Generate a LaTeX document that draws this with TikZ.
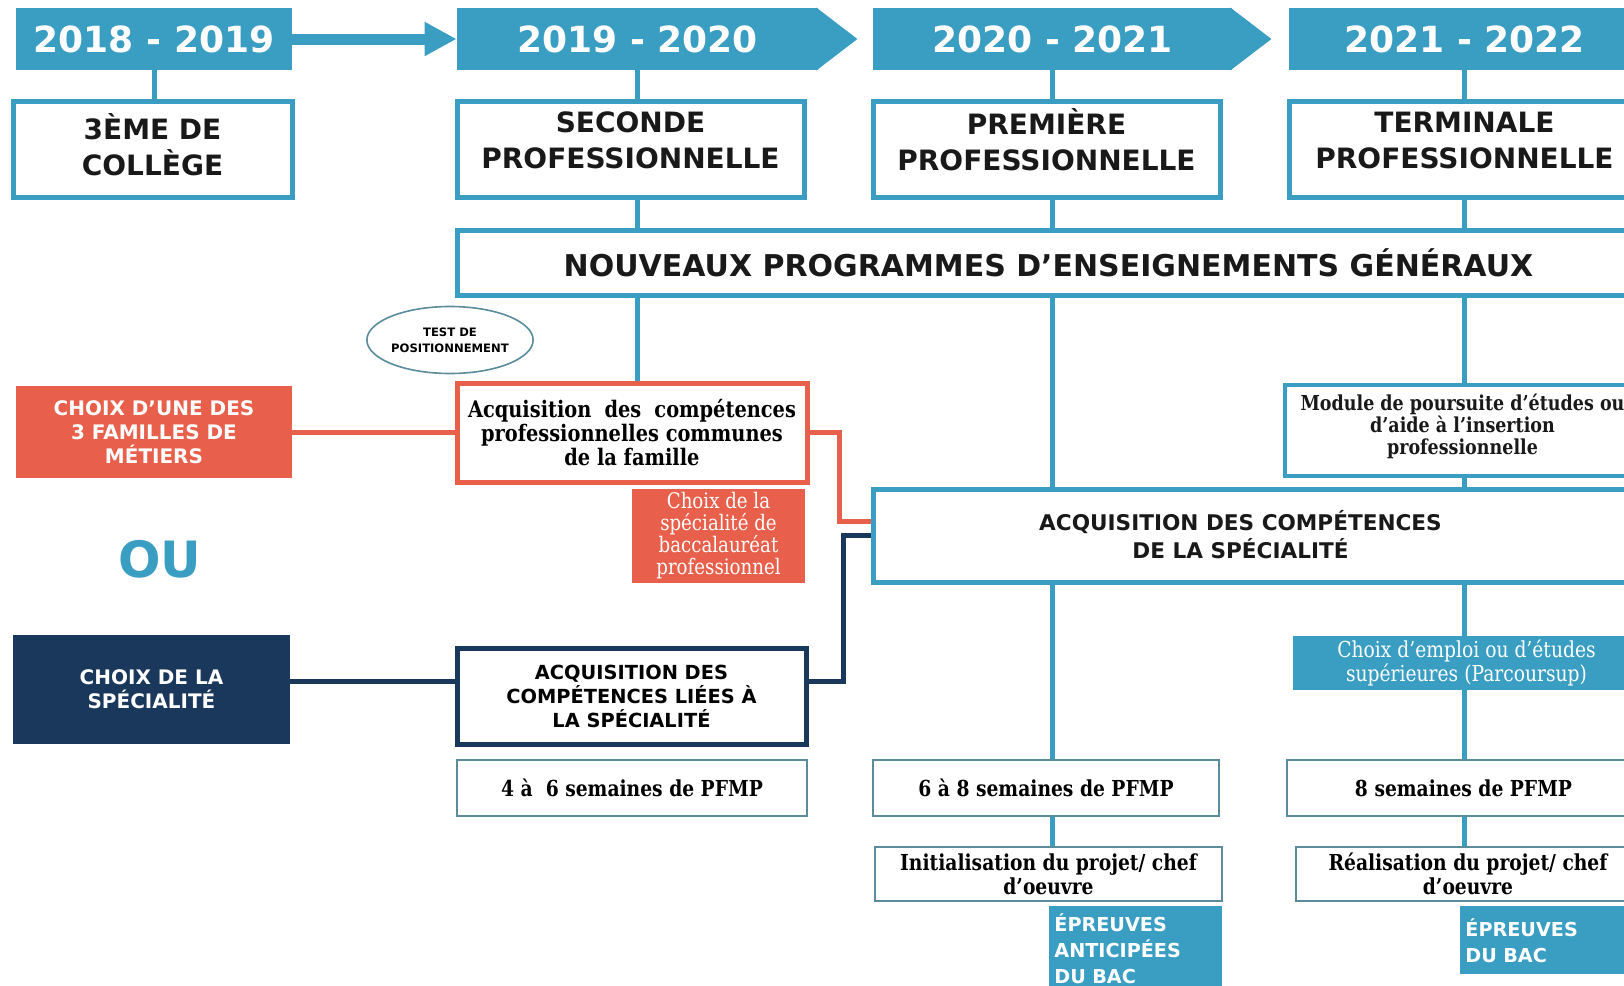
\documentclass[tikz,border=0pt]{standalone}
\usepackage{fontspec}
\setmainfont{DejaVu Serif}
\newfontfamily\hdfont{DejaVu Sans}
\newfontfamily\srfont{DejaVu Serif}[FakeStretch=0.85]
\usetikzlibrary{arrows.meta,backgrounds,shapes.geometric}
\definecolor{tealc}{RGB}{58,158,195}
\definecolor{redc}{RGB}{232,96,76}
\definecolor{navyc}{RGB}{26,56,92}
\definecolor{greyteal}{RGB}{90,140,155}
\begin{document}
\begin{tikzpicture}[x=0.5pt,y=-0.5pt,
  banner/.style={fill=tealc, text=white, font=\hdfont\bfseries\fontsize{18}{20}\selectfont, minimum height=31pt, inner sep=0pt},
  hbox/.style={draw=tealc, line width=2.5pt, fill=white, text=black!90, font=\hdfont\bfseries\fontsize{14}{18}\selectfont, align=center, minimum height=48pt, inner sep=0pt},
  hlab/.style={text=black!90, font=\hdfont\bfseries\fontsize{14}{18}\selectfont, align=center, inner sep=0pt},
  tline/.style={draw=tealc, line width=2.5pt},
  redline/.style={draw=redc, line width=2.5pt},
  navyline/.style={draw=navyc, line width=2.5pt},
  test/.style={ellipse, draw=greyteal, line width=0.8pt, fill=white, align=center, font=\hdfont\bfseries\fontsize{5.8}{8}\selectfont, minimum width=75pt, minimum height=33.5pt, inner sep=0pt},
  fbox/.style={draw=greyteal, line width=1pt, fill=white, font=\srfont\bfseries\fontsize{11}{13}\selectfont, minimum height=28pt, inner sep=0pt},
  ibox/.style={draw=greyteal, line width=1pt, fill=white, font=\srfont\bfseries\fontsize{11}{12}\selectfont, align=center, minimum height=27pt, inner sep=0pt},
  ebox/.style={fill=tealc, text=white, font=\hdfont\bfseries\fontsize{9.6}{13}\selectfont, align=left, anchor=north west, inner xsep=2.5pt, inner ysep=3pt}
]
\useasboundingbox (0,0) rectangle (1624,986);
\clip (0,0) rectangle (1624,986);

% year banners
\node[banner, minimum width=138pt] (b1) at (154,39) {2018 - 2019};
\node[banner, minimum width=180.5pt] (b2) at (637.5,39) {2019 - 2020};
\node[banner, minimum width=179.5pt] (b3) at (1052.5,39) {2020 - 2021};
\node[banner, minimum width=175.5pt] (b4) at (1464.5,39) {2021 - 2022};
\fill[tealc] ([xshift=-1pt]b2.north east) -- ([xshift=19.5pt]b2.east) -- ([xshift=-1pt]b2.south east) -- cycle;
\fill[tealc] ([xshift=-1pt]b3.north east) -- ([xshift=19.5pt]b3.east) -- ([xshift=-1pt]b3.south east) -- cycle;
\draw[tealc, line width=5.5pt, -{Triangle[length=16pt,width=16pt]}] (b1.east) -- (b2.west);

% class boxes
\node[hbox, minimum width=139.5pt, label={[hlab, yshift=2pt]center:{3ÈME DE\\COLLÈGE}}] (p0) at (152.5,149) {};
\node[hbox, minimum width=173.5pt, label={[hlab, yshift=4.5pt]center:{SECONDE\\PROFESSIONNELLE}}] (p1) at (630.5,149) {};
\node[hbox, minimum width=173.5pt, label={[hlab, yshift=4.5pt]center:{PREMIÈRE\\PROFESSIONNELLE}}] (p2) at (1046.5,149) {};
\node[hbox, minimum width=175.5pt, label={[hlab, yshift=4.5pt]center:{TERMINALE\\PROFESSIONNELLE}}] (p3) at (1464.5,149) {};

\node[hbox, font=\hdfont\bfseries\fontsize{15}{18}\selectfont, minimum width=591.5pt, minimum height=32.5pt] (np) at (1048.5,262.5) {NOUVEAUX PROGRAMMES D’ENSEIGNEMENTS GÉNÉRAUX};

\node[test] (tp) at (450,340) {TEST DE\\POSITIONNEMENT};

\node[fill=redc, text=white, font=\hdfont\bfseries\fontsize{10}{12}\selectfont, align=center, minimum width=138pt, minimum height=46pt, inner sep=0pt] (r1) at (154,432) {CHOIX D’UNE DES\\3 FAMILLES DE\\MÉTIERS};

\node[draw=redc, line width=2.5pt, fill=white, font=\srfont\bfseries\fontsize{11.4}{12}\selectfont, align=center, minimum width=175pt, minimum height=49.5pt, inner sep=0pt] (ac) at (632,432.5) {\makebox[164pt][s]{Acquisition des compétences}\\professionnelles communes\\de la famille};

\node[fill=redc, text=white, font=\srfont\fontsize{10.7}{11}\selectfont, align=center, minimum width=86.5pt, minimum height=47pt, inner sep=0pt] (cs) at (718.5,536) {Choix de la\\spécialité de\\baccalauréat\\professionnel};

\node[hbox, minimum width=383.5pt, minimum height=46.5pt, label={[hlab, font=\hdfont\bfseries\fontsize{10.8}{14}\selectfont, xshift=-8pt, yshift=0.5pt]center:{ACQUISITION DES COMPÉTENCES\\DE LA SPÉCIALITÉ}}] (bb) at (1256.5,535.5) {};

\node[draw=tealc, line width=2pt, fill=white, minimum width=177.5pt, minimum height=45.5pt, inner sep=0pt, label={[hlab, font=\srfont\bfseries\fontsize{10.3}{11}\selectfont, yshift=2pt]center:{Module de poursuite d’études ou\\d’aide à l’insertion\\professionnelle}}] (mo) at (1462.5,430.5) {};

\node[text=tealc, font=\hdfont\bfseries\fontsize{25}{28}\selectfont] (ou) at (160,559) {OU};

\node[fill=navyc, text=white, font=\hdfont\bfseries\fontsize{10}{12}\selectfont, align=center, minimum width=138.5pt, minimum height=54.5pt, inner sep=0pt] (nb) at (151.5,689.5) {CHOIX DE LA\\SPÉCIALITÉ};

\node[draw=navyc, line width=2.5pt, fill=white, font=\hdfont\bfseries\fontsize{9.7}{12}\selectfont, align=center, minimum width=174.5pt, minimum height=48pt, inner sep=0pt] (al) at (631.5,696) {ACQUISITION DES\\COMPÉTENCES LIÉES À\\LA SPÉCIALITÉ};

\node[fill=tealc, text=white, font=\srfont\fontsize{11}{11}\selectfont, align=center, minimum width=173.5pt, minimum height=27pt, inner sep=0pt] (ce) at (1466.5,663) {Choix d’emploi ou d’études\\supérieures (Parcoursup)};

\node[fbox, minimum width=175pt] (f1) at (632,788) {4 à~ 6 semaines de PFMP};
\node[fbox, minimum width=173pt] (f2) at (1046,788) {6 à 8 semaines de PFMP};
\node[fbox, minimum width=176.5pt] (f3) at (1463.5,788) {8 semaines de PFMP};

\node[ibox, minimum width=173.5pt] (i2) at (1048.5,874) {Initialisation du projet/ chef\\d’oeuvre};
\node[ibox, minimum width=172pt] (i3) at (1468,874) {Réalisation du projet/ chef\\d’oeuvre};

\node[ebox, text width=81.5pt, minimum height=42pt] (e2) at (1049,906) {ÉPREUVES\\ANTICIPÉES\\DU BAC};
\node[ebox, text width=85pt, minimum height=34pt] (e3) at (1460,906) {ÉPREUVES\\DU BAC};

% vertical timelines (behind boxes)
\begin{scope}[on background layer]
\draw[tline] (b1.south) -- (b1.south |- p0.north);
\draw[tline] (b2.south) -- (b2.south |- ac.north);
\draw[tline] (b3.south) -- (b3.south |- i2.north);
\draw[tline] (b4.south) -- (b4.south |- i3.north);
\end{scope}

% red and navy connectors
\draw[redline] (r1.east) -- (r1.east -| ac.west);
\draw[redline] (ac.east) -- ++(15pt,0) |- ([yshift=7.25pt]bb.west);
\draw[navyline] ([yshift=7.5pt]al.west) -- ([yshift=7.5pt]al.west -| nb.east);
\draw[navyline] ([yshift=7.5pt]al.east) -- ++(17.5pt,0) |- (bb.west);
\end{tikzpicture}
\end{document}
